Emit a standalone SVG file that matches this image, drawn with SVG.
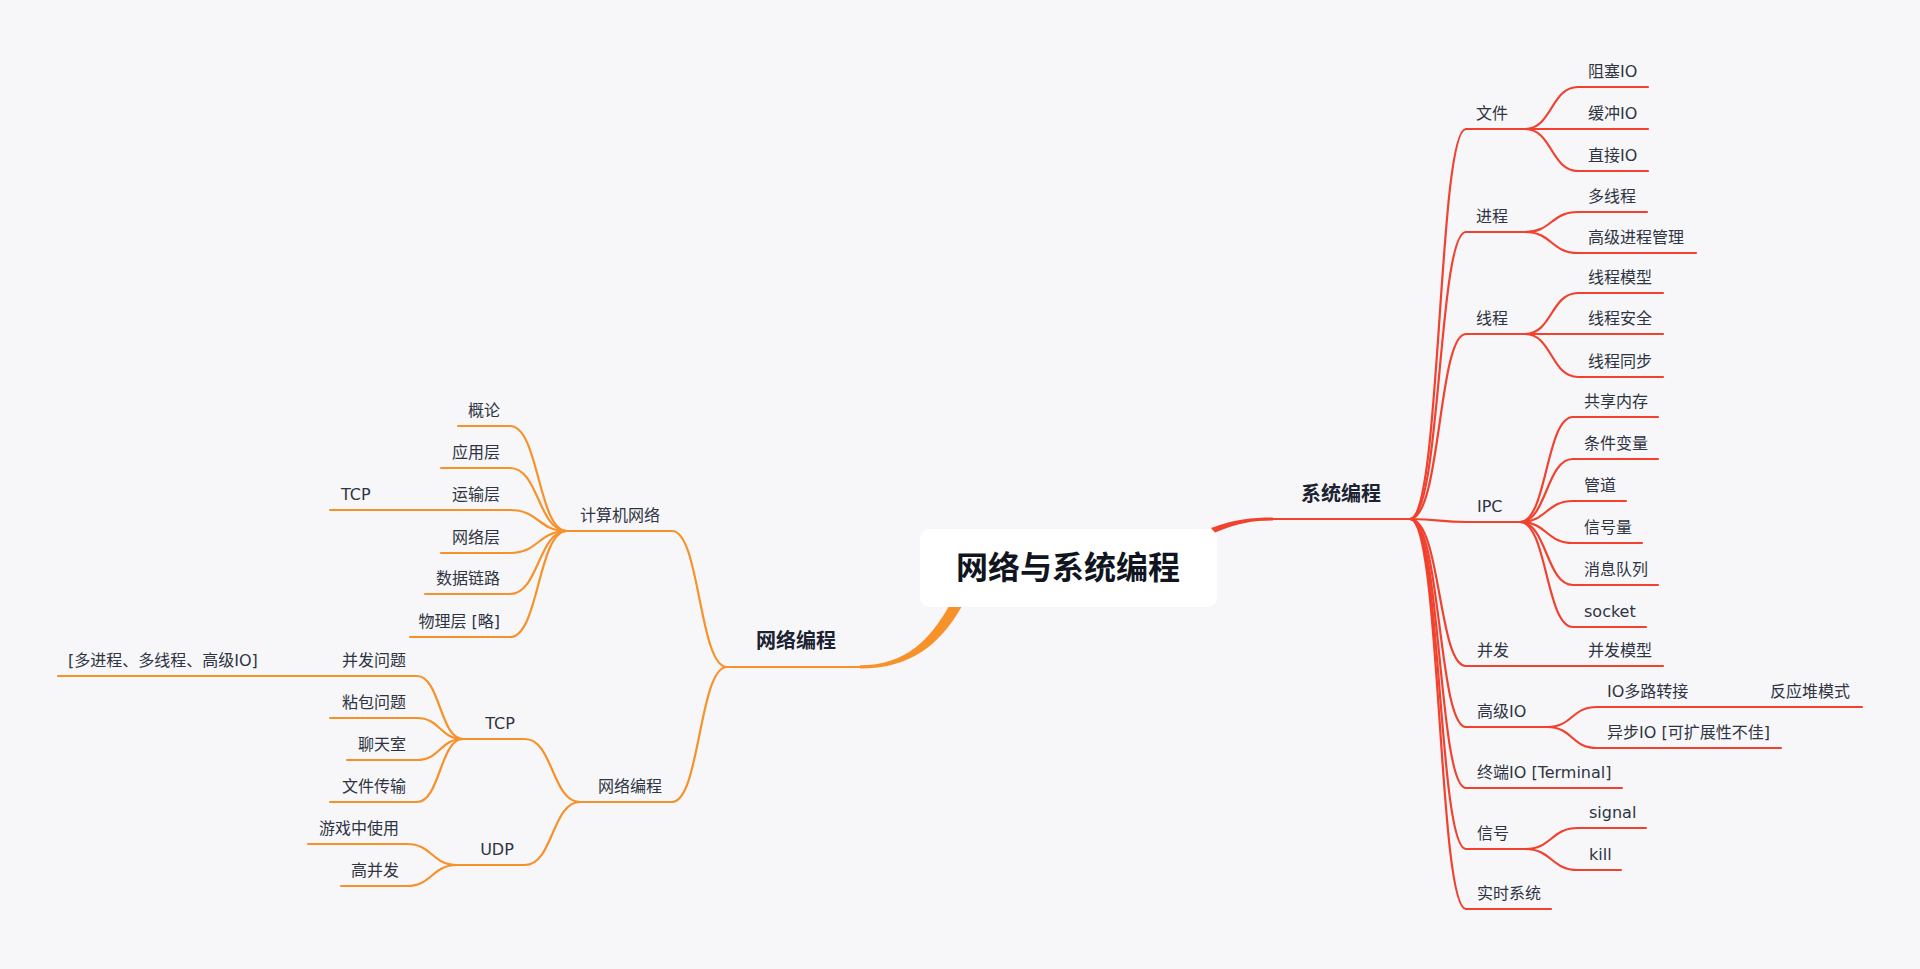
<svg xmlns="http://www.w3.org/2000/svg" width="1920" height="969" viewBox="0 0 1920 969">
<style>
.r{fill:none;stroke:#f1412f;stroke-width:2.2;stroke-linecap:round}
.o{fill:none;stroke:#f7922b;stroke-width:2.2;stroke-linecap:round}
.t{font-family:"DejaVu Sans","Noto Sans CJK SC",sans-serif;font-size:16px;fill:#2e3442}
.e{text-anchor:end}
.m{text-anchor:middle}
.b{font-family:"Noto Sans CJK SC","DejaVu Sans",sans-serif;font-weight:bold;font-size:20px;fill:#1b2231;text-anchor:middle}
.c{font-family:"Noto Sans CJK SC","DejaVu Sans",sans-serif;font-weight:bold;font-size:32px;fill:#10151f;text-anchor:middle}
</style>
<rect width="1920" height="969" fill="#f7f7f9"/>
<g id="connectors">
<path d="M1211,528 C1236,519 1252,517.6 1273,517.6 L1273,520.4 C1253,520.4 1239,522.5 1215,532.5 Z" fill="#f1412f"/>
<path d="M949,606 C930,640 905,665.3 860,665.3 L860,668.6 C910,668.6 940,645 962,606 Z" fill="#f7922b"/>
<path class="r" d="M1410,519 C1441,519 1438,129 1466,129"/>
<path class="r" d="M1410,519 C1441,519 1438,232 1466,232"/>
<path class="r" d="M1410,519 C1441,519 1438,334 1466,334"/>
<path class="r" d="M1410,519 C1441,519 1438,522 1466,522"/>
<path class="r" d="M1410,519 C1441,519 1438,666 1466,666"/>
<path class="r" d="M1410,519 C1441,519 1438,727 1466,727"/>
<path class="r" d="M1410,519 C1441,519 1438,788 1466,788"/>
<path class="r" d="M1410,519 C1441,519 1438,849 1466,849"/>
<path class="r" d="M1410,519 C1441,519 1438,909 1466,909"/>
<path class="r" d="M1525,129 C1552,129 1551,87 1578,87"/>
<path class="r" d="M1525,129 H1578"/>
<path class="r" d="M1525,129 C1552,129 1551,171 1578,171"/>
<path class="r" d="M1525,232 C1552,232 1551,212 1578,212"/>
<path class="r" d="M1525,232 C1552,232 1551,253 1578,253"/>
<path class="r" d="M1525,334 C1552,334 1551,293 1578,293"/>
<path class="r" d="M1525,334 H1578"/>
<path class="r" d="M1525,334 C1552,334 1551,377 1578,377"/>
<path class="r" d="M1520,522 C1547,522 1546,417 1573,417"/>
<path class="r" d="M1520,522 C1547,522 1546,459 1573,459"/>
<path class="r" d="M1520,522 C1547,522 1546,501 1573,501"/>
<path class="r" d="M1520,522 C1547,522 1546,543 1573,543"/>
<path class="r" d="M1520,522 C1547,522 1546,585 1573,585"/>
<path class="r" d="M1520,522 C1547,522 1546,627 1573,627"/>
<path class="r" d="M1530,666 H1578"/>
<path class="r" d="M1547,727 C1573,727 1571,707 1597,707"/>
<path class="r" d="M1547,727 C1573,727 1571,748 1597,748"/>
<path class="r" d="M1695,707 H1705"/>
<path class="r" d="M1525,849 C1552,849 1551,828 1578,828"/>
<path class="r" d="M1525,849 C1552,849 1551,870 1578,870"/>
<path class="o" d="M727,667 C699,667 700,531 672,531"/>
<path class="o" d="M727,667 C699,667 700,802 672,802"/>
<path class="o" d="M567,531 C538,531 539,426 510,426"/>
<path class="o" d="M567,531 C538,531 539,468 510,468"/>
<path class="o" d="M567,531 C538,531 539,510 510,510"/>
<path class="o" d="M567,531 C538,531 539,553 510,553"/>
<path class="o" d="M567,531 C538,531 539,594 510,594"/>
<path class="o" d="M567,531 C538,531 539,637 510,637"/>
<path class="o" d="M441,510 H436"/>
<path class="o" d="M580,802 C552,802 553,739 525,739"/>
<path class="o" d="M580,802 C552,802 553,865 525,865"/>
<path class="o" d="M463,739 C440,739 440,676 417,676"/>
<path class="o" d="M463,739 C440,739 440,718 417,718"/>
<path class="o" d="M463,739 C440,739 440,760 417,760"/>
<path class="o" d="M463,739 C440,739 440,802 417,802"/>
<path class="o" d="M330,676 H325"/>
<path class="o" d="M457,865 C432,865 432,844 407,844"/>
<path class="o" d="M457,865 C432,865 432,886 407,886"/>
</g>
<g id="root">
<rect x="920" y="529" width="297" height="78" rx="10" fill="#ffffff"/>
<text class="c" x="1068" y="579">网络与系统编程</text>
</g>
<g id="n-sys"><path class="r" d="M1273,519 H1410"/><text class="b" x="1341" y="501">系统编程</text></g>
<g id="n-net"><path class="o" d="M727,667 H860"/><text class="b" x="796" y="648">网络编程</text></g>
<g id="n-file"><path class="r" d="M1466,129 H1525"/><text class="t" x="1476" y="119">文件</text></g>
<g id="n-bio"><path class="r" d="M1578,87 H1648"/><text class="t" x="1588" y="77">阻塞IO</text></g>
<g id="n-buf"><path class="r" d="M1578,129 H1648"/><text class="t" x="1588" y="119">缓冲IO</text></g>
<g id="n-dio"><path class="r" d="M1578,171 H1648"/><text class="t" x="1588" y="161">直接IO</text></g>
<g id="n-proc"><path class="r" d="M1466,232 H1525"/><text class="t" x="1476" y="222">进程</text></g>
<g id="n-mt"><path class="r" d="M1578,212 H1647"/><text class="t" x="1588" y="202">多线程</text></g>
<g id="n-adv"><path class="r" d="M1578,253 H1696"/><text class="t" x="1588" y="243">高级进程管理</text></g>
<g id="n-thr"><path class="r" d="M1466,334 H1525"/><text class="t" x="1476" y="324">线程</text></g>
<g id="n-tm"><path class="r" d="M1578,293 H1663"/><text class="t" x="1588" y="283">线程模型</text></g>
<g id="n-ts"><path class="r" d="M1578,334 H1663"/><text class="t" x="1588" y="324">线程安全</text></g>
<g id="n-tsync"><path class="r" d="M1578,377 H1663"/><text class="t" x="1588" y="367">线程同步</text></g>
<g id="n-ipc"><path class="r" d="M1466,522 H1520"/><text class="t" x="1477" y="512">IPC</text></g>
<g id="n-shm"><path class="r" d="M1573,417 H1658"/><text class="t" x="1584" y="407">共享内存</text></g>
<g id="n-cond"><path class="r" d="M1573,459 H1658"/><text class="t" x="1584" y="449">条件变量</text></g>
<g id="n-pipe"><path class="r" d="M1573,501 H1626"/><text class="t" x="1584" y="491">管道</text></g>
<g id="n-sem"><path class="r" d="M1573,543 H1642"/><text class="t" x="1584" y="533">信号量</text></g>
<g id="n-mq"><path class="r" d="M1573,585 H1658"/><text class="t" x="1584" y="575">消息队列</text></g>
<g id="n-sock"><path class="r" d="M1573,627 H1646"/><text class="t" x="1584" y="617">socket</text></g>
<g id="n-conc"><path class="r" d="M1466,666 H1530"/><text class="t" x="1477" y="656">并发</text></g>
<g id="n-cm"><path class="r" d="M1578,666 H1663"/><text class="t" x="1588" y="656">并发模型</text></g>
<g id="n-aio"><path class="r" d="M1466,727 H1547"/><text class="t" x="1477" y="717">高级IO</text></g>
<g id="n-mux"><path class="r" d="M1597,707 H1695"/><text class="t" x="1607" y="697">IO多路转接</text></g>
<g id="n-reactor"><path class="r" d="M1705,707 H1862"/><text class="t" x="1770" y="697">反应堆模式</text></g>
<g id="n-async"><path class="r" d="M1597,748 H1781"/><text class="t" x="1607" y="738">异步IO [可扩展性不佳]</text></g>
<g id="n-term"><path class="r" d="M1466,788 H1622"/><text class="t" x="1477" y="778">终端IO [Terminal]</text></g>
<g id="n-sig"><path class="r" d="M1466,849 H1525"/><text class="t" x="1477" y="839">信号</text></g>
<g id="n-signal"><path class="r" d="M1578,828 H1646"/><text class="t" x="1589" y="818">signal</text></g>
<g id="n-kill"><path class="r" d="M1578,870 H1621"/><text class="t" x="1589" y="860">kill</text></g>
<g id="n-rt"><path class="r" d="M1466,909 H1551"/><text class="t" x="1477" y="899">实时系统</text></g>
<g id="n-cn"><path class="o" d="M567,531 H672"/><text class="t m" x="620" y="521">计算机网络</text></g>
<g id="n-np"><path class="o" d="M580,802 H672"/><text class="t m" x="630" y="792">网络编程</text></g>
<g id="n-intro"><path class="o" d="M458,426 H510"/><text class="t e" x="500" y="416">概论</text></g>
<g id="n-app"><path class="o" d="M441,468 H510"/><text class="t e" x="500" y="458">应用层</text></g>
<g id="n-trans"><path class="o" d="M436,510 H510"/><text class="t e" x="500" y="500">运输层</text></g>
<g id="n-tcp1"><path class="o" d="M330,510 H436"/><text class="t" x="341" y="500">TCP</text></g>
<g id="n-netl"><path class="o" d="M441,553 H510"/><text class="t e" x="500" y="543">网络层</text></g>
<g id="n-link"><path class="o" d="M425,594 H510"/><text class="t e" x="500" y="584">数据链路</text></g>
<g id="n-phy"><path class="o" d="M410,637 H510"/><text class="t e" x="500" y="627">物理层 [略]</text></g>
<g id="n-tcp"><path class="o" d="M463,739 H525"/><text class="t m" x="500" y="729">TCP</text></g>
<g id="n-udp"><path class="o" d="M457,865 H525"/><text class="t m" x="497" y="855">UDP</text></g>
<g id="n-cp"><path class="o" d="M325,676 H417"/><text class="t e" x="406" y="666">并发问题</text></g>
<g id="n-multi"><path class="o" d="M58,676 H325"/><text class="t" x="68" y="666">[多进程、多线程、高级IO]</text></g>
<g id="n-stick"><path class="o" d="M330,718 H417"/><text class="t e" x="406" y="708">粘包问题</text></g>
<g id="n-chat"><path class="o" d="M347,760 H417"/><text class="t e" x="406" y="750">聊天室</text></g>
<g id="n-ft"><path class="o" d="M330,802 H417"/><text class="t e" x="406" y="792">文件传输</text></g>
<g id="n-game"><path class="o" d="M308,844 H407"/><text class="t e" x="399" y="834">游戏中使用</text></g>
<g id="n-hc"><path class="o" d="M341,886 H407"/><text class="t e" x="399" y="876">高并发</text></g>
</svg>
